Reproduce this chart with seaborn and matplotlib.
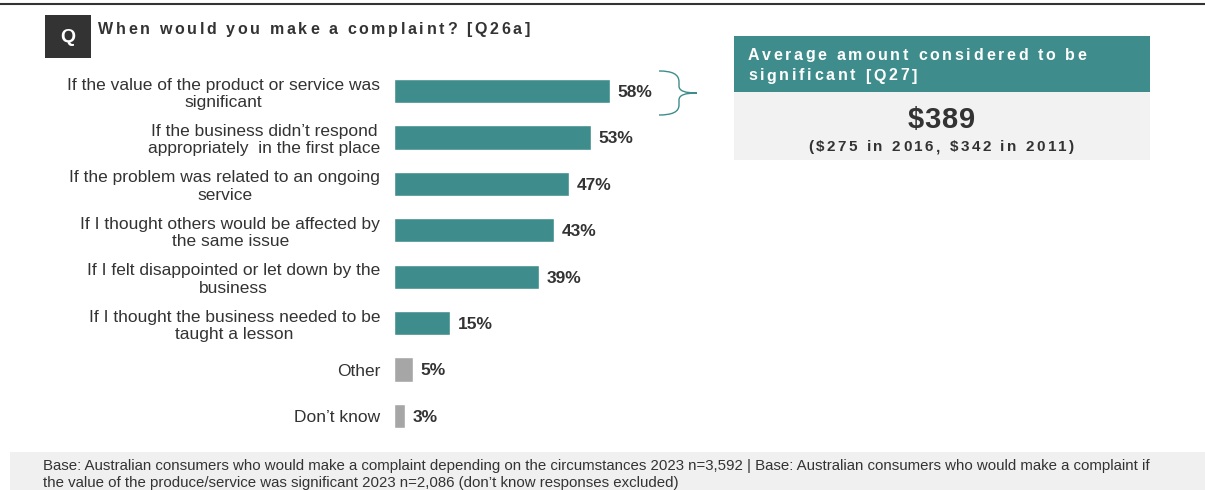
import matplotlib
matplotlib.use("Agg")
import matplotlib.pyplot as plt
from matplotlib.patches import Rectangle, PathPatch
from matplotlib.path import Path
import seaborn as sns
import pandas as pd

categories = [
    "If the value of the product or service was\nsignificant",
    "If the business didn\u2019t respond\nappropriately  in the first place",
    "If the problem was related to an ongoing\nservice",
    "If I thought others would be affected by\nthe same issue",
    "If I felt disappointed or let down by the\nbusiness",
    "If I thought the business needed to be\ntaught a lesson",
    "Other",
    "Don\u2019t know",
]
values = [58, 53, 47, 43, 39, 15, 5, 3]
groups = ["main"] * 6 + ["other"] * 2

title = "When would you make a complaint? [Q26a]"
panel_title = ["Average amount considered to be", "significant [Q27]"]
panel_value = "$389"
panel_note = "($275 in 2016, $342 in 2011)"
footnote = ("Base: Australian consumers who would make a complaint depending on the circumstances 2023 n=3,592 | "
            "Base: Australian consumers who would make a complaint if\n"
            "the value of the produce/service was significant 2023 n=2,086 (don\u2019t know responses excluded)")

TEAL = "#3e8d8c"
GREY = "#a6a6a6"
DARK = "#333333"

sns.set_theme(style="white")
plt.rcParams["font.family"] = ["Liberation Sans", "DejaVu Sans"]

W, H = 1205, 490
fig = plt.figure(figsize=(W / 100, H / 100), dpi=100)
renderer = fig.canvas.get_renderer()


def fx(px):
    return px / W


def fy(py):
    return 1 - py / H


def spaced_text(x, y, s, size, spacing, color, weight="bold", ha="left"):
    """Draw s with extra tracking; x, y in pixels from the top-left, y is the baseline."""
    probe = fig.text(0, 0, "", fontsize=size, fontweight=weight, parse_math=False)

    def width(t):
        probe.set_text(t)
        return probe.get_window_extent(renderer).width

    total = width(s) + spacing * (len(s) - 1)
    x0 = x - total / 2 if ha == "center" else x
    for k, ch in enumerate(s):
        if ch == " ":
            continue
        pos = width(s[:k + 1]) - width(ch)
        fig.text(fx(x0 + pos + k * spacing), fy(y), ch, fontsize=size,
                 fontweight=weight, color=color, ha="left", va="baseline",
                 parse_math=False)
    probe.remove()


df = pd.DataFrame({"label": categories, "value": values, "group": groups})

ax = fig.add_axes([fx(394), fy(439.2), 372 / W, 371.4 / H])
sns.barplot(data=df, y="label", x="value", hue="group",
            palette={"main": TEAL, "other": GREY}, orient="h",
            width=0.52, dodge=False, legend=False, ax=ax, saturation=1)
ax.set_xlim(0, 100)
ax.set_ylim(7.5, -0.5)
ax.set_xlabel("")
ax.set_ylabel("")
ax.set_xticks([])
ax.set_yticks(range(len(categories)))
ax.set_yticklabels(categories, fontsize=12.5, color=DARK, ha="right",
                   multialignment="center", linespacing=1.2)
ax.tick_params(axis="y", length=0, pad=10)
for s in ax.spines.values():
    s.set_visible(False)
ax.patch.set_alpha(0)

for i, v in enumerate(values):
    ax.annotate(f"{v}%", xy=(v, i), xytext=(5.5, -1), textcoords="offset points",
                va="center", ha="left", fontsize=12.5, fontweight="bold", color=DARK)

# top rule
fig.add_artist(plt.Line2D([0, 1], [fy(4), fy(4)], color="#333333", lw=1.5))

# question badge and title
fig.add_artist(Rectangle((fx(45), fy(58)), fx(46), 43 / H, color="#333333", lw=0))
fig.text(fx(68), fy(38), "Q", color="white", fontsize=14, fontweight="bold",
         ha="center", va="center")
spaced_text(98, 34, title, 11.5, 2.64, DARK)

# brace next to the first bar
verts = [
    (659, 71), (672, 71), (679, 74), (679, 82),
    (679, 86),
    (679, 91), (685, 93), (697, 93),
    (685, 93), (679, 95), (679, 100),
    (679, 105),
    (679, 112), (672, 115), (659, 115),
]
codes = ([Path.MOVETO] + [Path.CURVE4] * 3 + [Path.LINETO] + [Path.CURVE4] * 3
         + [Path.CURVE4] * 3 + [Path.LINETO] + [Path.CURVE4] * 3)
brace = Path([(fx(a), fy(b)) for a, b in verts], codes)
fig.add_artist(PathPatch(brace, fill=False, edgecolor=TEAL, lw=1.0))

# side panel
fig.add_artist(Rectangle((fx(734), fy(92)), fx(416), 56 / H, color=TEAL, lw=0))
fig.add_artist(Rectangle((fx(734), fy(160)), fx(416), 68 / H, color="#f2f2f2", lw=0))
spaced_text(748, 59.5, panel_title[0], 11.5, 2.7, "white")
spaced_text(748, 80.5, panel_title[1], 11.5, 2.7, "white")
spaced_text(941, 128.5, panel_value, 21, 1.0, DARK, ha="center")
spaced_text(941, 151, panel_note, 11, 2.5, DARK, ha="center")

# footnote band
fig.add_artist(Rectangle((fx(10), 0), fx(1195), 38 / H, color="#f0f0f0", lw=0))
fig.text(fx(43), fy(474.5), footnote, color=DARK, fontsize=10.8, ha="left",
         va="center", linespacing=1.2)

fig.savefig("out.png", dpi=100)
